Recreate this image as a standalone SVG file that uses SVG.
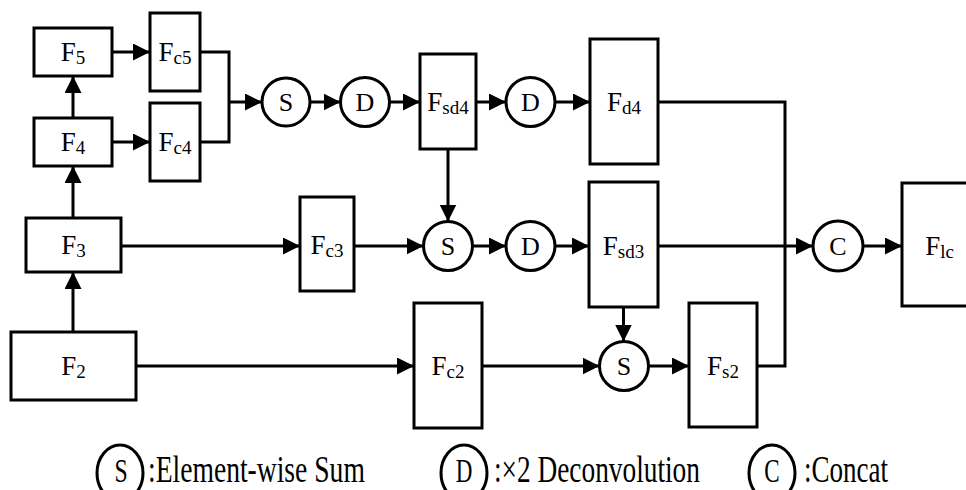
<svg xmlns="http://www.w3.org/2000/svg" width="966" height="490" viewBox="0 0 966 490">
<defs>
<marker id="ah" markerUnits="userSpaceOnUse" markerWidth="18" markerHeight="18" refX="17" refY="8.5" orient="auto">
<path d="M0,0 L17,8.5 L0,17 z" fill="#000"/>
</marker>
<style>
.b { fill: #fff; stroke: #000; stroke-width: 3; }
.c line, .c polyline { stroke: #000; stroke-width: 3; fill: none; }
.a { marker-end: url(#ah); }
text { font-family: "Liberation Serif", "Times New Roman", serif; fill: #000; text-anchor: middle; }
.n { font-size: 27px; }
.s { font-size: 19px; }
.o { font-size: 26px; }
.lg { font-size: 37px; text-anchor: start; }
.lo { font-size: 33px; }
</style>
</defs>
<rect width="966" height="490" fill="#fff"/>

<g id="connectors" class="c">
<line class="a" x1="73" y1="118" x2="73" y2="76"/>
<line class="a" x1="73" y1="218" x2="73" y2="166"/>
<line class="a" x1="73" y1="332" x2="73" y2="272"/>
<line class="a" x1="112" y1="52" x2="150" y2="52"/>
<line class="a" x1="112" y1="142" x2="150" y2="142"/>
<polyline points="200,52 229,52 229,142 200,142"/>
<line class="a" x1="229" y1="102" x2="262" y2="102"/>
<line class="a" x1="310" y1="102" x2="340.5" y2="102"/>
<line class="a" x1="389.5" y1="102" x2="420" y2="102"/>
<line class="a" x1="476" y1="102" x2="506" y2="102"/>
<line class="a" x1="555" y1="102" x2="590" y2="102"/>
<polyline points="658,102 785,102 785,366 757,366"/>
<line class="a" x1="658" y1="246" x2="813" y2="246"/>
<line class="a" x1="121" y1="246" x2="300" y2="246"/>
<line class="a" x1="354" y1="246" x2="423.5" y2="246"/>
<line class="a" x1="448" y1="149" x2="448" y2="221.5"/>
<line class="a" x1="472.5" y1="246" x2="506" y2="246"/>
<line class="a" x1="555" y1="246" x2="589" y2="246"/>
<line class="a" x1="136" y1="366" x2="414" y2="366"/>
<line class="a" x1="482" y1="366" x2="599.5" y2="366"/>
<line class="a" x1="623.5" y1="307" x2="623.5" y2="341.5"/>
<line class="a" x1="648.5" y1="366" x2="689" y2="366"/>
<line class="a" x1="863" y1="246" x2="902" y2="246"/>
</g>

<g id="F5"><rect class="b" x="34" y="28" width="78" height="48"/><text class="n" x="73" y="61">F<tspan class="s" dy="3">5</tspan></text></g>
<g id="F4"><rect class="b" x="34" y="118" width="78" height="48"/><text class="n" x="73" y="151">F<tspan class="s" dy="3">4</tspan></text></g>
<g id="F3"><rect class="b" x="26" y="218" width="95" height="54"/><text class="n" x="73.5" y="254">F<tspan class="s" dy="3">3</tspan></text></g>
<g id="F2"><rect class="b" x="11" y="332" width="125" height="68"/><text class="n" x="73.5" y="375">F<tspan class="s" dy="3">2</tspan></text></g>
<g id="Fc5"><rect class="b" x="150" y="13" width="50" height="78"/><text class="n" x="175" y="61">F<tspan class="s" dy="3">c5</tspan></text></g>
<g id="Fc4"><rect class="b" x="150" y="103" width="50" height="78"/><text class="n" x="175" y="151">F<tspan class="s" dy="3">c4</tspan></text></g>
<g id="Fc3"><rect class="b" x="300" y="197" width="54" height="94"/><text class="n" x="327" y="254">F<tspan class="s" dy="3">c3</tspan></text></g>
<g id="Fc2"><rect class="b" x="414" y="303" width="68" height="125"/><text class="n" x="448" y="375">F<tspan class="s" dy="3">c2</tspan></text></g>
<g id="S1"><circle class="b" cx="286" cy="102" r="24"/><text class="o" x="286" y="111">S</text></g>
<g id="D1"><circle class="b" cx="365" cy="102" r="24.5"/><text class="o" x="365" y="111">D</text></g>
<g id="Fsd4"><rect class="b" x="420" y="54" width="56" height="95"/><text class="n" x="448" y="111">F<tspan class="s" dy="3">sd4</tspan></text></g>
<g id="D2"><circle class="b" cx="530.5" cy="102" r="24.5"/><text class="o" x="530.5" y="111">D</text></g>
<g id="Fd4"><rect class="b" x="590" y="39" width="68" height="125"/><text class="n" x="624" y="111">F<tspan class="s" dy="3">d4</tspan></text></g>
<g id="S2"><circle class="b" cx="448" cy="246" r="24.5"/><text class="o" x="448" y="255">S</text></g>
<g id="D3"><circle class="b" cx="530.5" cy="246" r="24.5"/><text class="o" x="530.5" y="255">D</text></g>
<g id="Fsd3"><rect class="b" x="589" y="182" width="69" height="125"/><text class="n" x="623.5" y="255">F<tspan class="s" dy="3">sd3</tspan></text></g>
<g id="S3"><circle class="b" cx="624" cy="366" r="24.5"/><text class="o" x="624" y="375">S</text></g>
<g id="Fs2"><rect class="b" x="689" y="303" width="68" height="124"/><text class="n" x="723" y="375">F<tspan class="s" dy="3">s2</tspan></text></g>
<g id="C"><circle class="b" cx="838" cy="246" r="25"/><text class="o" x="838" y="255">C</text></g>
<g id="Flc"><rect class="b" x="902" y="183" width="74" height="123"/><text class="n" x="939.5" y="255">F<tspan class="s" dy="3">lc</tspan></text></g>

<g id="legend">
<ellipse class="b" cx="120" cy="473" rx="23" ry="28" stroke-width="2.5"/>
<g transform="translate(121,482) scale(0.72,1)"><text class="lo">S</text></g>
<g transform="translate(148,482) scale(0.746,1)"><text class="lg">:Element-wise Sum</text></g>
<ellipse class="b" cx="464" cy="473" rx="23" ry="28" stroke-width="2.5"/>
<g transform="translate(464,482) scale(0.7,1)"><text class="lo">D</text></g>
<g transform="translate(494,482) scale(0.739,1)"><text class="lg">:×2 Deconvolution</text></g>
<ellipse class="b" cx="772" cy="473" rx="23" ry="28" stroke-width="2.5"/>
<g transform="translate(772,482) scale(0.7,1)"><text class="lo">C</text></g>
<g transform="translate(804,482) scale(0.73,1)"><text class="lg">:Concat</text></g>
</g>
</svg>
